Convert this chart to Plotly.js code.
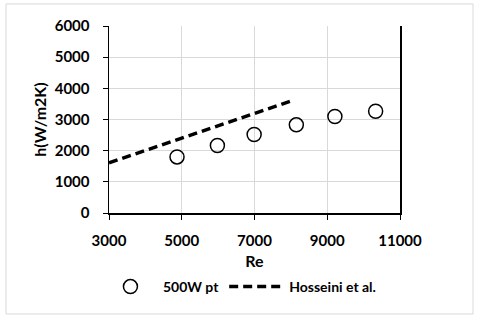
<!DOCTYPE html>
<html><head><meta charset="utf-8">
<script src="https://cdn.plot.ly/plotly-3.0.1.min.js"></script>
<style>html,body{margin:0;padding:0;background:#fff}#c{width:480px;height:319px}</style>
</head><body><div id="c"></div>
<script>
const reExp = [4870, 5980, 6990, 8150, 9210, 10330];
const hExp = [1800, 2165, 2520, 2830, 3095, 3265];
const reHos = [3000, 8000];
const hHos = [1610, 3590];
const xTicks = [3000, 5000, 7000, 9000, 11000];
const yTicks = [0, 1000, 2000, 3000, 4000, 5000, 6000];

const F = 'Lato, "Open Sans", sans-serif';
const traces = [
  {x: reExp, y: hExp, mode: 'markers', name: '500W pt', type: 'scatter',
   marker: {symbol: 'circle-open', size: 14, color: '#000', line: {width: 1.5, color: '#000'}}},
  {x: reHos, y: hHos, mode: 'lines', name: 'Hosseini et al.', type: 'scatter',
   line: {color: '#000', width: 3.5, dash: '9px,5px'}}
];
const layout = {
  width: 480, height: 319,
  margin: {l: 109, r: 80, t: 26, b: 106},
  paper_bgcolor: '#fff', plot_bgcolor: '#fff',
  font: {family: F, size: 14, color: '#000', weight: 700},
  xaxis: {range: [3000, 11000], tickvals: xTicks, ticktext: xTicks.map(String),
    showgrid: true, gridcolor: '#d9d9d9', gridwidth: 1, zeroline: false,
    showline: true, linecolor: '#000', linewidth: 1.5, ticks: 'outside', ticklen: 5, tickcolor: '#000',
    ticklabelstandoff: 8,
    tickfont: {family: F, size: 15, weight: 700},
    title: {text: 'Re', font: {family: F, size: 16, weight: 700}, standoff: 8}},
  yaxis: {range: [0, 6000], tickvals: yTicks, ticktext: yTicks.map(String),
    showgrid: true, gridcolor: '#d9d9d9', gridwidth: 1, zeroline: false,
    showline: true, mirror: true, linecolor: '#000', linewidth: 1.5, ticks: 'outside', ticklen: 5, tickcolor: '#000',
    ticklabelstandoff: 10,
    tickfont: {family: F, size: 15, weight: 700},
    title: {text: 'h(W/m2K)', font: {family: F, size: 16, weight: 700}, standoff: 4}},
  showlegend: true,
  legend: {orientation: 'h', x: -0.038, y: -0.31, xanchor: 'left', yanchor: 'top',
    font: {family: F, size: 14, weight: 700}, bgcolor: 'rgba(0,0,0,0)', itemwidth: 55},
  shapes: [{type: 'rect', xref: 'paper', yref: 'paper', x0: -0.354, x1: 1.251, y0: -0.54, y1: 1.118,
    line: {color: '#d9d9d9', width: 1}, fillcolor: 'rgba(0,0,0,0)', layer: 'below'}]
};
Plotly.newPlot('c', traces, layout, {displayModeBar: false, staticPlot: true});
</script></body></html>
